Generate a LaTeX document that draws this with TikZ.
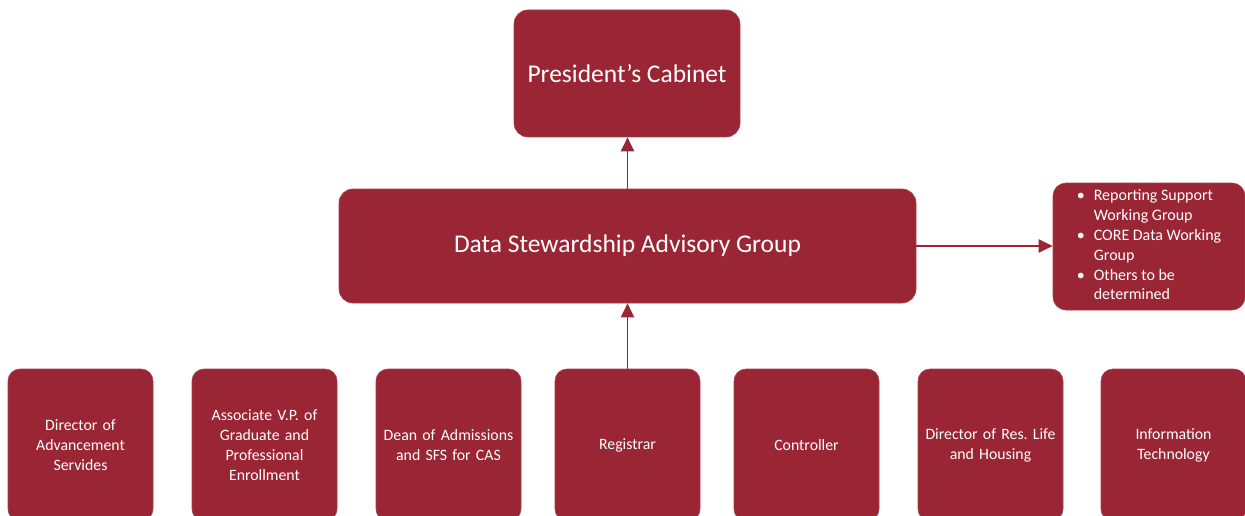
\documentclass[tikz,border=0pt]{standalone}
\usepackage{fontspec}
\setmainfont{Carlito}
\usepackage{xcolor}
\usetikzlibrary{arrows.meta}
\frenchspacing

\definecolor{maroon}{RGB}{154,37,53}
\definecolor{maroonedge}{RGB}{170,60,75}

\begin{document}
\begin{tikzpicture}[
  x=1pt, y=-1pt,
  box/.style={draw=maroonedge, line width=0.6pt, fill=maroon, text=white, rounded corners=#1, align=center, inner sep=0pt},
  box/.default=14pt,
  big/.style={box, font=\fontsize{25.5}{30}\selectfont},
  unit/.style={box=12pt, minimum width=145pt, minimum height=152pt, font=\fontsize{15.8}{20}\selectfont, text width=140pt},
  arr/.style={-{Triangle[length=14pt,width=13pt]}, line width=1.9pt, draw=maroon}
]
\useasboundingbox (0,0) rectangle (1245,516);
\clip (0,0) rectangle (1245,516);
% ---------------- top level
\node[big, minimum width=226pt, minimum height=127pt] (pres) at (627,73.5) {President's Cabinet};
% ---------------- advisory group and working groups
\node[big, minimum width=577pt, minimum height=114pt] (dsag) at (627.5,246) {Data Stewardship Advisory Group};
\node[box=13pt, minimum width=192pt, minimum height=127pt, align=left, font=\fontsize{16}{19.8}\selectfont] (wg) at (1149,246.5)
  {\begin{tabular}{@{}p{17pt}@{}l@{}}
   \textbullet & Reporting Support\\
               & Working Group\\
   \textbullet & CORE Data Working\\
               & Group\\
   \textbullet & Others to be\\
               & determined
   \end{tabular}};
% ---------------- units
\node[unit] (adv) at (80.5,445)  {Director of\\Advancement\\Servides};
\node[unit] (grad) at (264.5,445) {Associate V.P. of\\Graduate and\\Professional\\Enrollment};
\node[unit] (adm) at (448.5,445) {Dean of Admissions\\and SFS for CAS};
\node[unit] (reg) at (627.5,445) {Registrar};
\node[unit] (ctl) at (806.5,445) {Controller};
\node[unit] (res) at (990.5,445) {Director of Res. Life\\and Housing};
\node[unit] (it) at (1173.5,445) {Information\\Technology};
% ---------------- edges
\draw[arr] (dsag.north) -- (dsag.north |- pres.south);
\draw[arr] (reg.north) -- (reg.north |- dsag.south);
\draw[arr] (dsag.east) -- (wg.west |- dsag.east);
\end{tikzpicture}
\end{document}
